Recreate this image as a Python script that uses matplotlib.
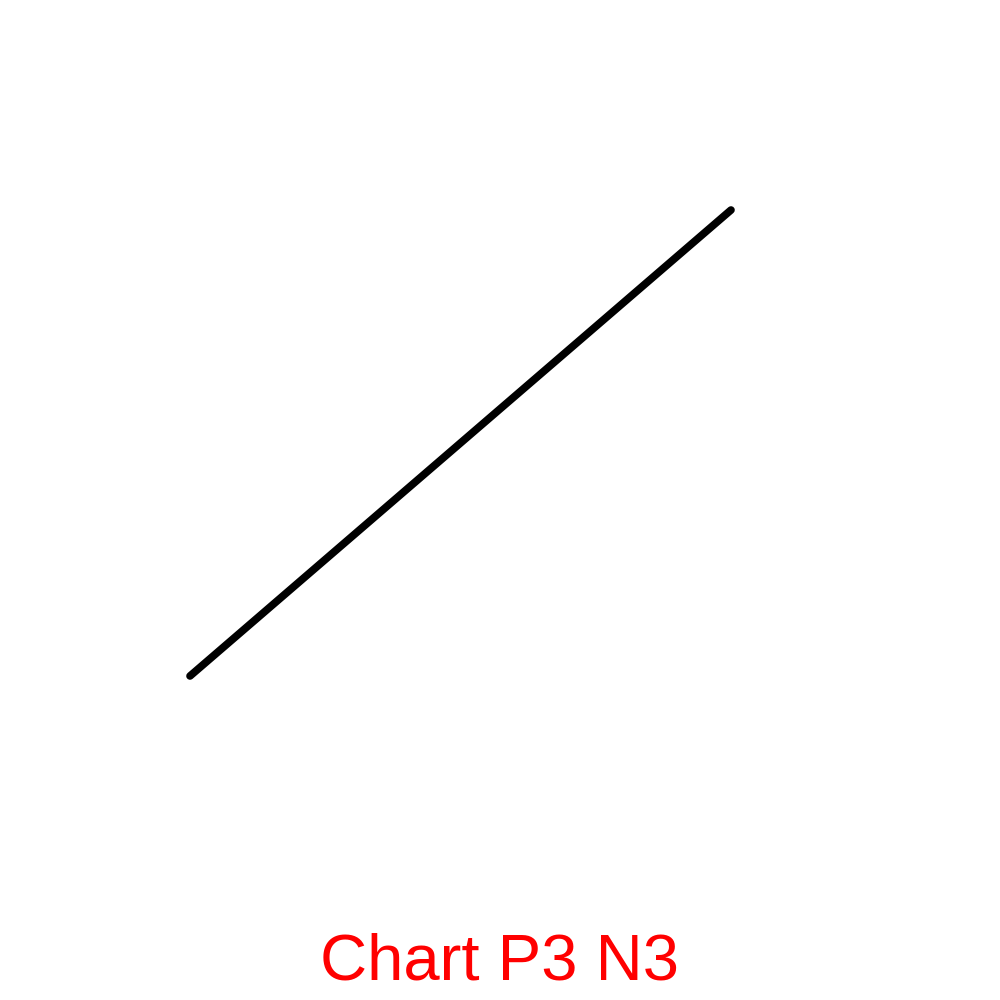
import matplotlib
matplotlib.use("Agg")
import matplotlib.pyplot as plt

# Data
x_values = [190, 731]
y_values = [676, 210]
title_text = "Chart P3 N3"

fig = plt.figure(figsize=(10, 10), dpi=100)
ax = fig.add_axes([0, 0, 1, 1])
ax.set_xlim(0, 1000)
ax.set_ylim(1000, 0)
ax.axis("off")

ax.plot(x_values, y_values, color="black", linewidth=5.5, solid_capstyle="round")

ax.text(500, 980, title_text, color="red", fontsize=47,
        family=["Liberation Sans", "DejaVu Sans"],
        ha="center", va="baseline")

fig.savefig("out.png", dpi=100, facecolor="white")
